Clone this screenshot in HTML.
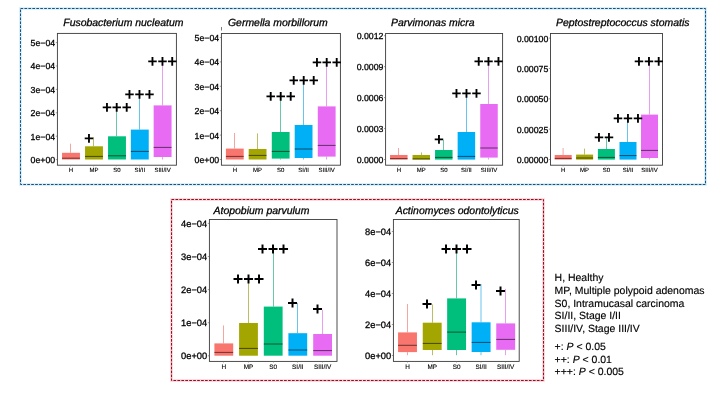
<!DOCTYPE html>
<html lang="en"><head><meta charset="utf-8"><title>Figure</title>
<style>
html,body{margin:0;padding:0;background:#fff;}
body{width:720px;height:405px;overflow:hidden;font-family:"Liberation Sans",Arial,Helvetica,sans-serif;}
svg{display:block;will-change:transform;}
</style></head><body>
<svg width="720" height="405" viewBox="0 0 720 405" text-rendering="geometricPrecision" font-family="'Liberation Sans', Arial, Helvetica, sans-serif">
<rect width="720" height="405" fill="#fff"/>
<rect x="20.5" y="8.5" width="685" height="176" fill="none" stroke="#cfeefa" stroke-width="2.6"/>
<rect x="20.5" y="8.5" width="685" height="176" fill="none" stroke="#1e4f7c" stroke-width="1" stroke-dasharray="2.7 1.25"/>
<rect x="171.5" y="199.5" width="372" height="181" fill="none" stroke="#ffd0d6" stroke-width="2.6"/>
<rect x="171.5" y="199.5" width="372" height="181" fill="none" stroke="#8e1024" stroke-width="1" stroke-dasharray="2.7 1.25"/>
<line x1="70.5" y1="143.7" x2="70.5" y2="152.8" stroke="#ee6a62" stroke-width="0.6"/>
<rect x="62.05" y="152.8" width="17.9" height="6.70" fill="#F8766D"/>
<line x1="62.05" y1="158.2" x2="79.95" y2="158.2" stroke="#000" stroke-opacity="0.6" stroke-width="0.95"/>
<line x1="93.5" y1="137.2" x2="93.5" y2="146.3" stroke="#8f9100" stroke-width="0.6"/>
<rect x="85.05" y="146.3" width="17.9" height="13.20" fill="#A3A500"/>
<line x1="85.05" y1="156.4" x2="102.95" y2="156.4" stroke="#000" stroke-opacity="0.6" stroke-width="0.95"/>
<line x1="116.5" y1="108" x2="116.5" y2="136.3" stroke="#00a56c" stroke-width="0.6"/>
<rect x="108.05" y="136.3" width="17.9" height="23.20" fill="#00BF7D"/>
<line x1="108.05" y1="155.8" x2="125.95" y2="155.8" stroke="#000" stroke-opacity="0.6" stroke-width="0.95"/>
<line x1="139.5" y1="95" x2="139.5" y2="129.6" stroke="#009ee0" stroke-width="0.6"/>
<rect x="130.85" y="129.6" width="17.9" height="29.90" fill="#00B0F6"/>
<line x1="130.85" y1="151.4" x2="148.75" y2="151.4" stroke="#000" stroke-opacity="0.6" stroke-width="0.95"/>
<line x1="162.5" y1="62" x2="162.5" y2="105.4" stroke="#d65fe2" stroke-width="0.6"/>
<line x1="162.5" y1="157.0" x2="162.5" y2="159.5" stroke="#d65fe2" stroke-width="0.6"/>
<rect x="153.65" y="105.4" width="17.9" height="51.60" fill="#E76BF3"/>
<line x1="153.65" y1="147.4" x2="171.55" y2="147.4" stroke="#000" stroke-opacity="0.6" stroke-width="0.95"/>
<rect x="57.4" y="33.4" width="119.00" height="131.80" fill="none" stroke="#3a3a3a" stroke-width="0.9"/>
<line x1="55.8" y1="159.6" x2="57.4" y2="159.6" stroke="#555" stroke-width="0.6"/>
<text x="55.20" y="163.01" font-size="8.75" text-anchor="end" fill="#000" stroke="#000" stroke-width="0.28">0e+00</text>
<line x1="55.8" y1="136.2" x2="57.4" y2="136.2" stroke="#555" stroke-width="0.6"/>
<text x="55.20" y="139.61" font-size="8.75" text-anchor="end" fill="#000" stroke="#000" stroke-width="0.28">1e−04</text>
<line x1="55.8" y1="112.8" x2="57.4" y2="112.8" stroke="#555" stroke-width="0.6"/>
<text x="55.20" y="116.21" font-size="8.75" text-anchor="end" fill="#000" stroke="#000" stroke-width="0.28">2e−04</text>
<line x1="55.8" y1="89.4" x2="57.4" y2="89.4" stroke="#555" stroke-width="0.6"/>
<text x="55.20" y="92.81" font-size="8.75" text-anchor="end" fill="#000" stroke="#000" stroke-width="0.28">3e−04</text>
<line x1="55.8" y1="66.0" x2="57.4" y2="66.0" stroke="#555" stroke-width="0.6"/>
<text x="55.20" y="69.41" font-size="8.75" text-anchor="end" fill="#000" stroke="#000" stroke-width="0.28">4e−04</text>
<line x1="55.8" y1="42.599999999999994" x2="57.4" y2="42.599999999999994" stroke="#555" stroke-width="0.6"/>
<text x="55.20" y="46.01" font-size="8.75" text-anchor="end" fill="#000" stroke="#000" stroke-width="0.28">5e−04</text>
<line x1="70.5" y1="165.2" x2="70.5" y2="166.5" stroke="#777" stroke-width="0.5"/>
<line x1="93.5" y1="165.2" x2="93.5" y2="166.5" stroke="#777" stroke-width="0.5"/>
<line x1="116.5" y1="165.2" x2="116.5" y2="166.5" stroke="#777" stroke-width="0.5"/>
<line x1="139.5" y1="165.2" x2="139.5" y2="166.5" stroke="#777" stroke-width="0.5"/>
<line x1="162.5" y1="165.2" x2="162.5" y2="166.5" stroke="#777" stroke-width="0.5"/>
<text x="71.0" y="171.7" font-size="6.0" text-anchor="middle" fill="#000" stroke="#000" stroke-width="0.12">H</text>
<text x="94.0" y="171.7" font-size="6.0" text-anchor="middle" fill="#000" stroke="#000" stroke-width="0.12">MP</text>
<text x="117.0" y="171.7" font-size="6.0" text-anchor="middle" fill="#000" stroke="#000" stroke-width="0.12">S0</text>
<text x="139.8" y="171.7" font-size="6.0" text-anchor="middle" fill="#000" stroke="#000" stroke-width="0.12">SI/II</text>
<text x="162.6" y="171.7" font-size="6.0" text-anchor="middle" fill="#000" stroke="#000" stroke-width="0.12">SIII/IV</text>
<text x="63.3" y="26.3" font-size="10.45" font-style="italic" fill="#000" stroke="#000" stroke-width="0.28">Fusobacterium nucleatum</text>
<text x="89.00" y="143.85" font-size="17" font-weight="700" text-anchor="middle" fill="#000">+</text>
<text x="116.80" y="113.35" font-size="17" font-weight="700" text-anchor="middle" fill="#000">+++</text>
<text x="139.50" y="100.35" font-size="17" font-weight="700" text-anchor="middle" fill="#000">+++</text>
<text x="162.40" y="67.35" font-size="17" font-weight="700" text-anchor="middle" fill="#000">+++</text>
<line x1="234.5" y1="133" x2="234.5" y2="148.6" stroke="#ee6a62" stroke-width="0.6"/>
<rect x="225.90" y="148.6" width="17.8" height="10.90" fill="#F8766D"/>
<line x1="225.90" y1="156.4" x2="243.70" y2="156.4" stroke="#000" stroke-opacity="0.6" stroke-width="0.95"/>
<line x1="257.5" y1="133.4" x2="257.5" y2="149" stroke="#8f9100" stroke-width="0.6"/>
<rect x="248.70" y="149" width="17.8" height="10.50" fill="#A3A500"/>
<line x1="248.70" y1="155.4" x2="266.50" y2="155.4" stroke="#000" stroke-opacity="0.6" stroke-width="0.95"/>
<line x1="280.5" y1="97" x2="280.5" y2="132" stroke="#00a56c" stroke-width="0.6"/>
<line x1="280.5" y1="158.6" x2="280.5" y2="159.5" stroke="#00a56c" stroke-width="0.6"/>
<rect x="271.80" y="132" width="17.8" height="26.60" fill="#00BF7D"/>
<line x1="271.80" y1="151.4" x2="289.60" y2="151.4" stroke="#000" stroke-opacity="0.6" stroke-width="0.95"/>
<line x1="303.5" y1="80.6" x2="303.5" y2="125" stroke="#009ee0" stroke-width="0.6"/>
<line x1="303.5" y1="158" x2="303.5" y2="159.5" stroke="#009ee0" stroke-width="0.6"/>
<rect x="294.70" y="125" width="17.8" height="33.00" fill="#00B0F6"/>
<line x1="294.70" y1="149" x2="312.50" y2="149" stroke="#000" stroke-opacity="0.6" stroke-width="0.95"/>
<line x1="326.5" y1="62.2" x2="326.5" y2="106.4" stroke="#d65fe2" stroke-width="0.6"/>
<line x1="326.5" y1="156.6" x2="326.5" y2="159.5" stroke="#d65fe2" stroke-width="0.6"/>
<rect x="317.80" y="106.4" width="17.8" height="50.20" fill="#E76BF3"/>
<line x1="317.80" y1="145.4" x2="335.60" y2="145.4" stroke="#000" stroke-opacity="0.6" stroke-width="0.95"/>
<rect x="221.4" y="33.5" width="119.00" height="131.70" fill="none" stroke="#3a3a3a" stroke-width="0.9"/>
<line x1="219.8" y1="159.5" x2="221.4" y2="159.5" stroke="#555" stroke-width="0.6"/>
<text x="219.20" y="162.91" font-size="8.75" text-anchor="end" fill="#000" stroke="#000" stroke-width="0.28">0e+00</text>
<line x1="219.8" y1="135.1" x2="221.4" y2="135.1" stroke="#555" stroke-width="0.6"/>
<text x="219.20" y="138.51" font-size="8.75" text-anchor="end" fill="#000" stroke="#000" stroke-width="0.28">1e−04</text>
<line x1="219.8" y1="110.7" x2="221.4" y2="110.7" stroke="#555" stroke-width="0.6"/>
<text x="219.20" y="114.11" font-size="8.75" text-anchor="end" fill="#000" stroke="#000" stroke-width="0.28">2e−04</text>
<line x1="219.8" y1="86.30000000000001" x2="221.4" y2="86.30000000000001" stroke="#555" stroke-width="0.6"/>
<text x="219.20" y="89.71" font-size="8.75" text-anchor="end" fill="#000" stroke="#000" stroke-width="0.28">3e−04</text>
<line x1="219.8" y1="61.900000000000006" x2="221.4" y2="61.900000000000006" stroke="#555" stroke-width="0.6"/>
<text x="219.20" y="65.31" font-size="8.75" text-anchor="end" fill="#000" stroke="#000" stroke-width="0.28">4e−04</text>
<line x1="219.8" y1="37.5" x2="221.4" y2="37.5" stroke="#555" stroke-width="0.6"/>
<text x="219.20" y="40.91" font-size="8.75" text-anchor="end" fill="#000" stroke="#000" stroke-width="0.28">5e−04</text>
<line x1="234.5" y1="165.2" x2="234.5" y2="166.5" stroke="#777" stroke-width="0.5"/>
<line x1="257.5" y1="165.2" x2="257.5" y2="166.5" stroke="#777" stroke-width="0.5"/>
<line x1="280.5" y1="165.2" x2="280.5" y2="166.5" stroke="#777" stroke-width="0.5"/>
<line x1="303.5" y1="165.2" x2="303.5" y2="166.5" stroke="#777" stroke-width="0.5"/>
<line x1="326.5" y1="165.2" x2="326.5" y2="166.5" stroke="#777" stroke-width="0.5"/>
<text x="234.8" y="171.7" font-size="6.0" text-anchor="middle" fill="#000" stroke="#000" stroke-width="0.12">H</text>
<text x="257.6" y="171.7" font-size="6.0" text-anchor="middle" fill="#000" stroke="#000" stroke-width="0.12">MP</text>
<text x="280.7" y="171.7" font-size="6.0" text-anchor="middle" fill="#000" stroke="#000" stroke-width="0.12">S0</text>
<text x="303.6" y="171.7" font-size="6.0" text-anchor="middle" fill="#000" stroke="#000" stroke-width="0.12">SI/II</text>
<text x="326.7" y="171.7" font-size="6.0" text-anchor="middle" fill="#000" stroke="#000" stroke-width="0.12">SIII/IV</text>
<text x="228.0" y="26.3" font-size="10.45" font-style="italic" fill="#000" stroke="#000" stroke-width="0.28">Germella morbillorum</text>
<text x="280.70" y="102.35" font-size="17" font-weight="700" text-anchor="middle" fill="#000">+++</text>
<text x="303.70" y="85.95" font-size="17" font-weight="700" text-anchor="middle" fill="#000">+++</text>
<text x="326.80" y="67.55" font-size="17" font-weight="700" text-anchor="middle" fill="#000">+++</text>
<line x1="398.5" y1="148" x2="398.5" y2="155" stroke="#ee6a62" stroke-width="0.6"/>
<rect x="390.05" y="155" width="17.5" height="4.60" fill="#F8766D"/>
<line x1="390.05" y1="158.6" x2="407.55" y2="158.6" stroke="#000" stroke-opacity="0.6" stroke-width="0.95"/>
<line x1="421.5" y1="152.4" x2="421.5" y2="155" stroke="#8f9100" stroke-width="0.6"/>
<rect x="412.55" y="155" width="17.5" height="4.60" fill="#A3A500"/>
<line x1="412.55" y1="158.9" x2="430.05" y2="158.9" stroke="#000" stroke-opacity="0.6" stroke-width="0.95"/>
<line x1="443.5" y1="140" x2="443.5" y2="150" stroke="#00a56c" stroke-width="0.6"/>
<rect x="435.05" y="150" width="17.5" height="9.60" fill="#00BF7D"/>
<line x1="435.05" y1="157.4" x2="452.55" y2="157.4" stroke="#000" stroke-opacity="0.6" stroke-width="0.95"/>
<line x1="466.5" y1="94" x2="466.5" y2="132" stroke="#009ee0" stroke-width="0.6"/>
<rect x="457.65" y="132" width="17.5" height="27.60" fill="#00B0F6"/>
<line x1="457.65" y1="156.4" x2="475.15" y2="156.4" stroke="#000" stroke-opacity="0.6" stroke-width="0.95"/>
<line x1="488.5" y1="61.6" x2="488.5" y2="104" stroke="#d65fe2" stroke-width="0.6"/>
<line x1="488.5" y1="157.6" x2="488.5" y2="159.5" stroke="#d65fe2" stroke-width="0.6"/>
<rect x="480.25" y="104" width="17.5" height="53.60" fill="#E76BF3"/>
<line x1="480.25" y1="148" x2="497.75" y2="148" stroke="#000" stroke-opacity="0.6" stroke-width="0.95"/>
<rect x="385.6" y="33.5" width="117.00" height="131.70" fill="none" stroke="#3a3a3a" stroke-width="0.9"/>
<line x1="384.0" y1="159.5" x2="385.6" y2="159.5" stroke="#555" stroke-width="0.6"/>
<text x="383.40" y="162.91" font-size="8.75" text-anchor="end" fill="#000" stroke="#000" stroke-width="0.28">0.0000</text>
<line x1="384.0" y1="128.55" x2="385.6" y2="128.55" stroke="#555" stroke-width="0.6"/>
<text x="383.40" y="131.96" font-size="8.75" text-anchor="end" fill="#000" stroke="#000" stroke-width="0.28">0.0003</text>
<line x1="384.0" y1="97.6" x2="385.6" y2="97.6" stroke="#555" stroke-width="0.6"/>
<text x="383.40" y="101.01" font-size="8.75" text-anchor="end" fill="#000" stroke="#000" stroke-width="0.28">0.0006</text>
<line x1="384.0" y1="66.65" x2="385.6" y2="66.65" stroke="#555" stroke-width="0.6"/>
<text x="383.40" y="70.06" font-size="8.75" text-anchor="end" fill="#000" stroke="#000" stroke-width="0.28">0.0009</text>
<line x1="384.0" y1="35.7" x2="385.6" y2="35.7" stroke="#555" stroke-width="0.6"/>
<text x="383.40" y="39.11" font-size="8.75" text-anchor="end" fill="#000" stroke="#000" stroke-width="0.28">0.0012</text>
<line x1="398.5" y1="165.2" x2="398.5" y2="166.5" stroke="#777" stroke-width="0.5"/>
<line x1="421.5" y1="165.2" x2="421.5" y2="166.5" stroke="#777" stroke-width="0.5"/>
<line x1="443.5" y1="165.2" x2="443.5" y2="166.5" stroke="#777" stroke-width="0.5"/>
<line x1="466.5" y1="165.2" x2="466.5" y2="166.5" stroke="#777" stroke-width="0.5"/>
<line x1="488.5" y1="165.2" x2="488.5" y2="166.5" stroke="#777" stroke-width="0.5"/>
<text x="398.8" y="171.7" font-size="6.0" text-anchor="middle" fill="#000" stroke="#000" stroke-width="0.12">H</text>
<text x="421.3" y="171.7" font-size="6.0" text-anchor="middle" fill="#000" stroke="#000" stroke-width="0.12">MP</text>
<text x="443.8" y="171.7" font-size="6.0" text-anchor="middle" fill="#000" stroke="#000" stroke-width="0.12">S0</text>
<text x="466.4" y="171.7" font-size="6.0" text-anchor="middle" fill="#000" stroke="#000" stroke-width="0.12">SI/II</text>
<text x="489.0" y="171.7" font-size="6.0" text-anchor="middle" fill="#000" stroke="#000" stroke-width="0.12">SIII/IV</text>
<text x="391.0" y="26.3" font-size="10.45" font-style="italic" fill="#000" stroke="#000" stroke-width="0.28">Parvimonas micra</text>
<text x="439.00" y="144.95" font-size="17" font-weight="700" text-anchor="middle" fill="#000">+</text>
<text x="466.50" y="99.35" font-size="17" font-weight="700" text-anchor="middle" fill="#000">+++</text>
<text x="488.60" y="66.95" font-size="17" font-weight="700" text-anchor="middle" fill="#000">+++</text>
<line x1="563.1" y1="148" x2="563.1" y2="155" stroke="#ee6a62" stroke-width="0.6"/>
<rect x="554.70" y="155" width="17.0" height="4.60" fill="#F8766D"/>
<line x1="554.70" y1="158.4" x2="571.70" y2="158.4" stroke="#000" stroke-opacity="0.6" stroke-width="0.95"/>
<line x1="584.5" y1="148.6" x2="584.5" y2="154.6" stroke="#8f9100" stroke-width="0.6"/>
<rect x="576.10" y="154.6" width="17.0" height="5.00" fill="#A3A500"/>
<line x1="576.10" y1="158" x2="593.10" y2="158" stroke="#000" stroke-opacity="0.6" stroke-width="0.95"/>
<line x1="606.5" y1="138" x2="606.5" y2="149" stroke="#00a56c" stroke-width="0.6"/>
<rect x="597.90" y="149" width="17.0" height="10.60" fill="#00BF7D"/>
<line x1="597.90" y1="157.4" x2="614.90" y2="157.4" stroke="#000" stroke-opacity="0.6" stroke-width="0.95"/>
<line x1="627.5" y1="119" x2="627.5" y2="142" stroke="#009ee0" stroke-width="0.6"/>
<rect x="619.50" y="142" width="17.0" height="17.60" fill="#00B0F6"/>
<line x1="619.50" y1="155.6" x2="636.50" y2="155.6" stroke="#000" stroke-opacity="0.6" stroke-width="0.95"/>
<line x1="649.5" y1="62" x2="649.5" y2="114.6" stroke="#d65fe2" stroke-width="0.6"/>
<line x1="649.5" y1="158" x2="649.5" y2="159.5" stroke="#d65fe2" stroke-width="0.6"/>
<rect x="641.00" y="114.6" width="17.0" height="43.40" fill="#E76BF3"/>
<line x1="641.00" y1="150.4" x2="658.00" y2="150.4" stroke="#000" stroke-opacity="0.6" stroke-width="0.95"/>
<rect x="550.5" y="33.5" width="112.00" height="131.70" fill="none" stroke="#3a3a3a" stroke-width="0.9"/>
<line x1="548.9" y1="159.5" x2="550.5" y2="159.5" stroke="#555" stroke-width="0.6"/>
<text x="548.30" y="162.91" font-size="8.75" text-anchor="end" fill="#000" stroke="#000" stroke-width="0.28">0.00000</text>
<line x1="548.9" y1="129.15" x2="550.5" y2="129.15" stroke="#555" stroke-width="0.6"/>
<text x="548.30" y="132.56" font-size="8.75" text-anchor="end" fill="#000" stroke="#000" stroke-width="0.28">0.00025</text>
<line x1="548.9" y1="98.8" x2="550.5" y2="98.8" stroke="#555" stroke-width="0.6"/>
<text x="548.30" y="102.21" font-size="8.75" text-anchor="end" fill="#000" stroke="#000" stroke-width="0.28">0.00050</text>
<line x1="548.9" y1="68.44999999999999" x2="550.5" y2="68.44999999999999" stroke="#555" stroke-width="0.6"/>
<text x="548.30" y="71.86" font-size="8.75" text-anchor="end" fill="#000" stroke="#000" stroke-width="0.28">0.00075</text>
<line x1="548.9" y1="38.099999999999994" x2="550.5" y2="38.099999999999994" stroke="#555" stroke-width="0.6"/>
<text x="548.30" y="41.51" font-size="8.75" text-anchor="end" fill="#000" stroke="#000" stroke-width="0.28">0.00100</text>
<line x1="563.1" y1="165.2" x2="563.1" y2="166.5" stroke="#777" stroke-width="0.5"/>
<line x1="584.5" y1="165.2" x2="584.5" y2="166.5" stroke="#777" stroke-width="0.5"/>
<line x1="606.5" y1="165.2" x2="606.5" y2="166.5" stroke="#777" stroke-width="0.5"/>
<line x1="627.5" y1="165.2" x2="627.5" y2="166.5" stroke="#777" stroke-width="0.5"/>
<line x1="649.5" y1="165.2" x2="649.5" y2="166.5" stroke="#777" stroke-width="0.5"/>
<text x="563.2" y="171.7" font-size="6.0" text-anchor="middle" fill="#000" stroke="#000" stroke-width="0.12">H</text>
<text x="584.6" y="171.7" font-size="6.0" text-anchor="middle" fill="#000" stroke="#000" stroke-width="0.12">MP</text>
<text x="606.4" y="171.7" font-size="6.0" text-anchor="middle" fill="#000" stroke="#000" stroke-width="0.12">S0</text>
<text x="628.0" y="171.7" font-size="6.0" text-anchor="middle" fill="#000" stroke="#000" stroke-width="0.12">SI/II</text>
<text x="649.5" y="171.7" font-size="6.0" text-anchor="middle" fill="#000" stroke="#000" stroke-width="0.12">SIII/IV</text>
<text x="556.0" y="26.1" font-size="10.45" font-style="italic" fill="#000" stroke="#000" stroke-width="0.28">Peptostreptococcus stomatis</text>
<text x="604.00" y="142.95" font-size="17" font-weight="700" text-anchor="middle" fill="#000">++</text>
<text x="628.00" y="124.35" font-size="17" font-weight="700" text-anchor="middle" fill="#000">+++</text>
<text x="648.90" y="67.35" font-size="17" font-weight="700" text-anchor="middle" fill="#000">+++</text>
<line x1="223.5" y1="325.4" x2="223.5" y2="343.4" stroke="#ee6a62" stroke-width="0.6"/>
<rect x="214.40" y="343.4" width="18.8" height="12.30" fill="#F8766D"/>
<line x1="214.40" y1="352.4" x2="233.20" y2="352.4" stroke="#000" stroke-opacity="0.6" stroke-width="0.95"/>
<line x1="248.5" y1="279.4" x2="248.5" y2="323" stroke="#8f9100" stroke-width="0.6"/>
<rect x="239.10" y="323" width="18.8" height="32.70" fill="#A3A500"/>
<line x1="239.10" y1="348.4" x2="257.90" y2="348.4" stroke="#000" stroke-opacity="0.6" stroke-width="0.95"/>
<line x1="273.5" y1="249.4" x2="273.5" y2="306.6" stroke="#00a56c" stroke-width="0.6"/>
<rect x="263.80" y="306.6" width="18.8" height="49.10" fill="#00BF7D"/>
<line x1="263.80" y1="344" x2="282.60" y2="344" stroke="#000" stroke-opacity="0.6" stroke-width="0.95"/>
<line x1="297.5" y1="303" x2="297.5" y2="333.2" stroke="#009ee0" stroke-width="0.6"/>
<rect x="288.40" y="333.2" width="18.8" height="22.50" fill="#00B0F6"/>
<line x1="288.40" y1="350" x2="307.20" y2="350" stroke="#000" stroke-opacity="0.6" stroke-width="0.95"/>
<line x1="322.5" y1="310" x2="322.5" y2="334" stroke="#d65fe2" stroke-width="0.6"/>
<rect x="313.20" y="334" width="18.8" height="21.70" fill="#E76BF3"/>
<line x1="313.20" y1="350.6" x2="332.00" y2="350.6" stroke="#000" stroke-opacity="0.6" stroke-width="0.95"/>
<rect x="209.4" y="219.5" width="127.60" height="141.90" fill="none" stroke="#3a3a3a" stroke-width="0.9"/>
<line x1="207.8" y1="355.8" x2="209.4" y2="355.8" stroke="#555" stroke-width="0.6"/>
<text x="207.20" y="359.40" font-size="9.3" text-anchor="end" fill="#000" stroke="#000" stroke-width="0.28">0e+00</text>
<line x1="207.8" y1="322.7" x2="209.4" y2="322.7" stroke="#555" stroke-width="0.6"/>
<text x="207.20" y="326.30" font-size="9.3" text-anchor="end" fill="#000" stroke="#000" stroke-width="0.28">1e−04</text>
<line x1="207.8" y1="289.6" x2="209.4" y2="289.6" stroke="#555" stroke-width="0.6"/>
<text x="207.20" y="293.20" font-size="9.3" text-anchor="end" fill="#000" stroke="#000" stroke-width="0.28">2e−04</text>
<line x1="207.8" y1="256.5" x2="209.4" y2="256.5" stroke="#555" stroke-width="0.6"/>
<text x="207.20" y="260.10" font-size="9.3" text-anchor="end" fill="#000" stroke="#000" stroke-width="0.28">3e−04</text>
<line x1="207.8" y1="223.4" x2="209.4" y2="223.4" stroke="#555" stroke-width="0.6"/>
<text x="207.20" y="227.00" font-size="9.3" text-anchor="end" fill="#000" stroke="#000" stroke-width="0.28">4e−04</text>
<line x1="223.5" y1="361.4" x2="223.5" y2="362.7" stroke="#777" stroke-width="0.5"/>
<line x1="248.5" y1="361.4" x2="248.5" y2="362.7" stroke="#777" stroke-width="0.5"/>
<line x1="273.5" y1="361.4" x2="273.5" y2="362.7" stroke="#777" stroke-width="0.5"/>
<line x1="297.5" y1="361.4" x2="297.5" y2="362.7" stroke="#777" stroke-width="0.5"/>
<line x1="322.5" y1="361.4" x2="322.5" y2="362.7" stroke="#777" stroke-width="0.5"/>
<text x="223.8" y="369.0" font-size="6.4" text-anchor="middle" fill="#000" stroke="#000" stroke-width="0.12">H</text>
<text x="248.5" y="369.0" font-size="6.4" text-anchor="middle" fill="#000" stroke="#000" stroke-width="0.12">MP</text>
<text x="273.2" y="369.0" font-size="6.4" text-anchor="middle" fill="#000" stroke="#000" stroke-width="0.12">S0</text>
<text x="297.8" y="369.0" font-size="6.4" text-anchor="middle" fill="#000" stroke="#000" stroke-width="0.12">SI/II</text>
<text x="322.6" y="369.0" font-size="6.4" text-anchor="middle" fill="#000" stroke="#000" stroke-width="0.12">SIII/IV</text>
<text x="213.6" y="214.0" font-size="10.45" font-style="italic" fill="#000" stroke="#000" stroke-width="0.28">Atopobium parvulum</text>
<text x="248.60" y="285.08" font-size="18" font-weight="700" text-anchor="middle" fill="#000">+++</text>
<text x="273.00" y="255.09" font-size="18" font-weight="700" text-anchor="middle" fill="#000">+++</text>
<text x="292.40" y="309.08" font-size="18" font-weight="700" text-anchor="middle" fill="#000">+</text>
<text x="317.60" y="315.08" font-size="18" font-weight="700" text-anchor="middle" fill="#000">+</text>
<line x1="407.5" y1="304" x2="407.5" y2="332.4" stroke="#ee6a62" stroke-width="0.6"/>
<line x1="407.5" y1="352.1" x2="407.5" y2="355.2" stroke="#ee6a62" stroke-width="0.6"/>
<rect x="398.05" y="332.4" width="18.9" height="19.70" fill="#F8766D"/>
<line x1="398.05" y1="345.3" x2="416.95" y2="345.3" stroke="#000" stroke-opacity="0.6" stroke-width="0.95"/>
<line x1="432.5" y1="304.5" x2="432.5" y2="322.7" stroke="#8f9100" stroke-width="0.6"/>
<line x1="432.5" y1="350.0" x2="432.5" y2="355.2" stroke="#8f9100" stroke-width="0.6"/>
<rect x="422.75" y="322.7" width="18.9" height="27.30" fill="#A3A500"/>
<line x1="422.75" y1="343.4" x2="441.65" y2="343.4" stroke="#000" stroke-opacity="0.6" stroke-width="0.95"/>
<line x1="456.5" y1="249.4" x2="456.5" y2="298.4" stroke="#00a56c" stroke-width="0.6"/>
<line x1="456.5" y1="350.0" x2="456.5" y2="355.2" stroke="#00a56c" stroke-width="0.6"/>
<rect x="447.15" y="298.4" width="18.9" height="51.60" fill="#00BF7D"/>
<line x1="447.15" y1="332.1" x2="466.05" y2="332.1" stroke="#000" stroke-opacity="0.6" stroke-width="0.95"/>
<line x1="481.0" y1="284" x2="481.0" y2="322.3" stroke="#009ee0" stroke-width="0.6"/>
<line x1="481.0" y1="352.0" x2="481.0" y2="355.2" stroke="#009ee0" stroke-width="0.6"/>
<rect x="471.65" y="322.3" width="18.9" height="29.70" fill="#00B0F6"/>
<line x1="471.65" y1="342.4" x2="490.55" y2="342.4" stroke="#000" stroke-opacity="0.6" stroke-width="0.95"/>
<line x1="505.5" y1="289" x2="505.5" y2="323.4" stroke="#d65fe2" stroke-width="0.6"/>
<line x1="505.5" y1="349.8" x2="505.5" y2="355.2" stroke="#d65fe2" stroke-width="0.6"/>
<rect x="496.25" y="323.4" width="18.9" height="26.40" fill="#E76BF3"/>
<line x1="496.25" y1="339.4" x2="515.15" y2="339.4" stroke="#000" stroke-opacity="0.6" stroke-width="0.95"/>
<rect x="393.4" y="219.5" width="125.80" height="141.90" fill="none" stroke="#3a3a3a" stroke-width="0.9"/>
<line x1="391.79999999999995" y1="355.5" x2="393.4" y2="355.5" stroke="#555" stroke-width="0.6"/>
<text x="391.20" y="359.10" font-size="9.3" text-anchor="end" fill="#000" stroke="#000" stroke-width="0.28">0e+00</text>
<line x1="391.79999999999995" y1="324.5" x2="393.4" y2="324.5" stroke="#555" stroke-width="0.6"/>
<text x="391.20" y="328.10" font-size="9.3" text-anchor="end" fill="#000" stroke="#000" stroke-width="0.28">2e−04</text>
<line x1="391.79999999999995" y1="293.5" x2="393.4" y2="293.5" stroke="#555" stroke-width="0.6"/>
<text x="391.20" y="297.10" font-size="9.3" text-anchor="end" fill="#000" stroke="#000" stroke-width="0.28">4e−04</text>
<line x1="391.79999999999995" y1="262.5" x2="393.4" y2="262.5" stroke="#555" stroke-width="0.6"/>
<text x="391.20" y="266.10" font-size="9.3" text-anchor="end" fill="#000" stroke="#000" stroke-width="0.28">6e−04</text>
<line x1="391.79999999999995" y1="231.5" x2="393.4" y2="231.5" stroke="#555" stroke-width="0.6"/>
<text x="391.20" y="235.10" font-size="9.3" text-anchor="end" fill="#000" stroke="#000" stroke-width="0.28">8e−04</text>
<line x1="407.5" y1="361.4" x2="407.5" y2="362.7" stroke="#777" stroke-width="0.5"/>
<line x1="432.5" y1="361.4" x2="432.5" y2="362.7" stroke="#777" stroke-width="0.5"/>
<line x1="456.5" y1="361.4" x2="456.5" y2="362.7" stroke="#777" stroke-width="0.5"/>
<line x1="481.0" y1="361.4" x2="481.0" y2="362.7" stroke="#777" stroke-width="0.5"/>
<line x1="505.5" y1="361.4" x2="505.5" y2="362.7" stroke="#777" stroke-width="0.5"/>
<text x="407.5" y="369.0" font-size="6.4" text-anchor="middle" fill="#000" stroke="#000" stroke-width="0.12">H</text>
<text x="432.2" y="369.0" font-size="6.4" text-anchor="middle" fill="#000" stroke="#000" stroke-width="0.12">MP</text>
<text x="456.6" y="369.0" font-size="6.4" text-anchor="middle" fill="#000" stroke="#000" stroke-width="0.12">S0</text>
<text x="481.1" y="369.0" font-size="6.4" text-anchor="middle" fill="#000" stroke="#000" stroke-width="0.12">SI/II</text>
<text x="505.7" y="369.0" font-size="6.4" text-anchor="middle" fill="#000" stroke="#000" stroke-width="0.12">SIII/IV</text>
<text x="395.7" y="213.9" font-size="10.45" font-style="italic" fill="#000" stroke="#000" stroke-width="0.28">Actinomyces odontolyticus</text>
<text x="427.00" y="310.19" font-size="18" font-weight="700" text-anchor="middle" fill="#000">+</text>
<text x="456.60" y="255.09" font-size="18" font-weight="700" text-anchor="middle" fill="#000">+++</text>
<text x="476.00" y="291.08" font-size="18" font-weight="700" text-anchor="middle" fill="#000">+</text>
<text x="500.50" y="297.29" font-size="18" font-weight="700" text-anchor="middle" fill="#000">+</text>
<line x1="221.5" y1="27" x2="221.5" y2="30.5" stroke="#444" stroke-width="0.7"/>
<text x="554.6" y="281.2" font-size="10.48" fill="#000" stroke="#000" stroke-width="0.15">H, Healthy</text>
<text x="554.6" y="294.0" font-size="10.48" fill="#000" stroke="#000" stroke-width="0.15">MP, Multiple polypoid adenomas</text>
<text x="554.6" y="306.7" font-size="10.48" fill="#000" stroke="#000" stroke-width="0.15">S0, Intramucasal carcinoma</text>
<text x="554.6" y="319.3" font-size="10.48" fill="#000" stroke="#000" stroke-width="0.15">SI/II, Stage I/II</text>
<text x="554.6" y="332.4" font-size="10.48" fill="#000" stroke="#000" stroke-width="0.15">SIII/IV, Stage III/IV</text>
<text x="554.6" y="350.0" font-size="10.48" fill="#000" stroke="#000" stroke-width="0.15">+: <tspan font-style="italic">P</tspan> &lt; 0.05</text>
<text x="554.6" y="362.5" font-size="10.48" fill="#000" stroke="#000" stroke-width="0.15">++: <tspan font-style="italic">P</tspan> &lt; 0.01</text>
<text x="554.6" y="374.9" font-size="10.48" fill="#000" stroke="#000" stroke-width="0.15">+++: <tspan font-style="italic">P</tspan> &lt; 0.005</text>
</svg>
</body></html>
